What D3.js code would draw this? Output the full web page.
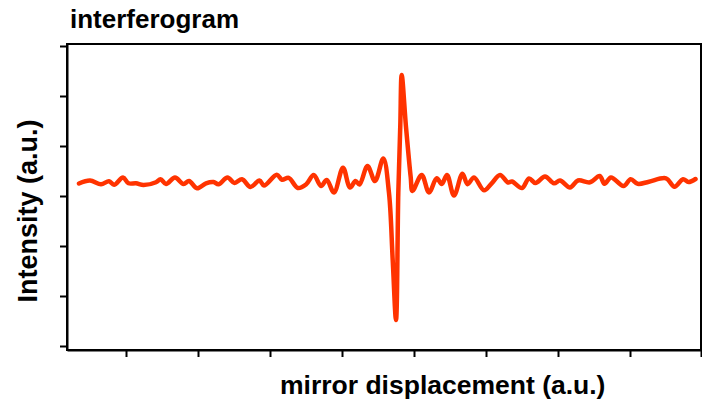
<!DOCTYPE html>
<html>
<head>
<meta charset="utf-8">
<script src="https://cdn.jsdelivr.net/npm/d3@7"></script>
<style>
  body { margin: 0; background: #fff; }
  text { font-family: "Liberation Sans", Arial, sans-serif; font-weight: bold; fill: #000; }
</style>
</head>
<body>
<div id="chart"></div>
<script>
// mirror displacement (a.u.) and intensity (a.u.)
var displacement = [12, 23, 34, 42, 47, 56, 61.5, 69, 76.5, 89, 93.5, 99, 108, 116.5, 122, 130, 139, 146.5, 151.5,
  160.5, 167.5, 175, 183.5, 192.5, 197, 209.8, 215, 221.7, 230.8, 239, 246.7, 254, 259.7, 267, 276, 283, 288.5,
  292.5, 300.5, 308, 316.3, 322, 325.7, 329, 331.3, 333.3, 334.7, 339, 343.7, 345.5, 354.7, 362, 369.7, 374.7,
  380, 387, 395.5, 400.5, 407, 417, 424.7, 433, 441, 445, 455, 462, 468.5, 478, 487, 493, 503, 511, 523, 532.7,
  537.5, 544, 556.5, 563.7, 570.7, 582, 599, 607.5, 616, 621.5, 628.5];
var intensity = [0.25, 0.31, 0.234, 0.294, 0.224, 0.37, 0.254, 0.254, 0.22, 0.274, 0.336, 0.24, 0.37, 0.24, 0.30,
  0.154, 0.254, 0.28, 0.234, 0.37, 0.26, 0.336, 0.18, 0.31, 0.21, 0.426, 0.326, 0.364, 0.16, 0.23, 0.42, 0.20,
  0.32, 0.07, 0.564, 0.17, 0.30, 0.23, 0.60, 0.30, 0.75, 0.06, -1.28, -2.48, 0.06, 1.42, 2.42, 1.38, 0.38, 0.10,
  0.42, 0.07, 0.354, 0.24, 0.42, 0.01, 0.446, 0.236, 0.37, 0.114, 0.254, 0.42, 0.27, 0.29, 0.16, 0.35, 0.26,
  0.39, 0.254, 0.31, 0.17, 0.31, 0.274, 0.40, 0.244, 0.37, 0.20, 0.336, 0.244, 0.286, 0.354, 0.186, 0.336,
  0.28, 0.34];
var xTicks = [59, 131, 203, 275, 347, 419, 491, 563, 634];
var yTicks = [-3, -2, -1, 0, 1, 2, 3];

var data = displacement.map(function(d, i) { return {x: d, y: intensity[i]}; });

var margin = {top: 44, right: 1, bottom: 53, left: 67},
    width = 702 - margin.left - margin.right,
    height = 403 - margin.top - margin.bottom;

var svg = d3.select("#chart").append("svg")
    .attr("width", 702)
    .attr("height", 403);

var g = svg.append("g")
    .attr("transform", "translate(" + margin.left + "," + margin.top + ")");

var x = d3.scaleLinear().domain([0, 634]).range([0, width]);
var y = d3.scaleLinear().domain([-3.08, 3.04]).range([height, 0]);

// frame
g.append("rect")
    .attr("width", width)
    .attr("height", height)
    .attr("fill", "none")
    .attr("stroke", "#000")
    .attr("stroke-width", 2);

// axes, ticks only
var xAxis = g.append("g")
    .attr("transform", "translate(0," + height + ")")
    .call(d3.axisBottom(x).tickValues(xTicks).tickSize(7).tickSizeOuter(0).tickFormat(""));
var yAxis = g.append("g")
    .call(d3.axisLeft(y).tickValues(yTicks).tickSize(7).tickSizeOuter(0).tickFormat(""));
[xAxis, yAxis].forEach(function(a) {
  a.select(".domain").attr("stroke-width", 2);
  a.selectAll(".tick line").attr("stroke-width", 2);
});

// the interferogram trace
var line = d3.line()
    .x(function(d) { return x(d.x); })
    .y(function(d) { return y(d.y); })
    .curve(d3.curveCatmullRom.alpha(0.5));

g.append("path")
    .datum(data)
    .attr("fill", "none")
    .attr("stroke", "#ff3300")
    .attr("stroke-width", 4.5)
    .attr("stroke-linejoin", "round")
    .attr("stroke-linecap", "round")
    .attr("d", line);

// labels
svg.append("text")
    .attr("x", 70)
    .attr("y", 28)
    .style("font-size", "26px")
    .text("interferogram");

svg.append("text")
    .attr("x", 280)
    .attr("y", 394)
    .style("font-size", "26.5px")
    .text("mirror displacement (a.u.)");

svg.append("text")
    .attr("transform", "translate(37,211) rotate(-90)")
    .style("text-anchor", "middle")
    .style("font-size", "27px")
    .text("Intensity (a.u.)");
</script>
</body>
</html>
